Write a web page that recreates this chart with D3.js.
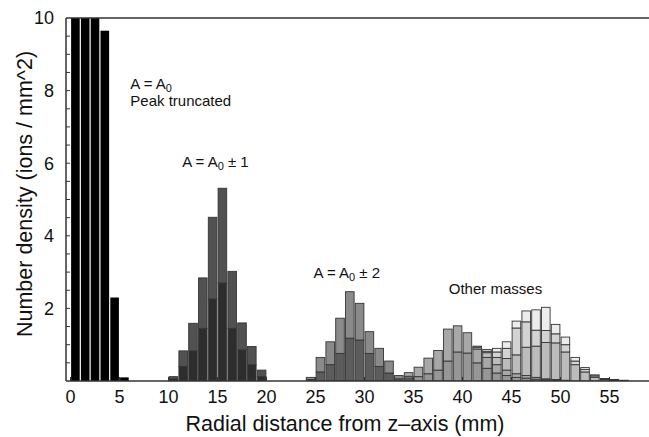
<!DOCTYPE html>
<html>
<head>
    <title>Radial distribution</title>
    <script src="https://d3js.org/d3.v7.min.js"></script>
    <style>
        body { margin: 0; background: #fff; }
        svg { display: block; }
        text { font-family: "Liberation Sans", Arial, Helvetica, sans-serif; fill: #111; }
    </style>
</head>
<body>
    <svg id="chart"></svg>
    <script>
        const width = 649;
        const height = 437;

        // histogram contributions per 1 mm bin
        const peakA0 = [10.6, 10.6, 10.6, 9.65, 2.3, 0.1];              // bins 0..5 (peak truncated)
        const a1Lower = [0.06, 0.4, 0.83, 1.45, 2.26, 2.7, 1.45, 0.86, 0.45, 0.12];   // bins 10..19
        const a1Upper = [0.06, 0.43, 0.76, 1.39, 2.25, 2.61, 1.57, 0.74, 0.5, 0.18];
        const a2Lower = [0.04, 0.25, 0.45, 0.76, 1.18, 1.13, 0.76, 0.4, 0.22, 0.06, 0.03]; // bins 24..34
        const a2Upper = [0.06, 0.4, 0.63, 0.97, 1.28, 1.01, 0.6, 0.5, 0.33, 0.09, 0.05];
        const other1 = [0.05, 0.12, 0.2, 0.3, 0.55, 0.8, 0.77, 0.5, 0.35, 0.22, 0.15, 0.1, 0.08, 0.05, 0.03, 0.02, 0.01]; // bins 34..50
        const other2 = [0.1, 0.26, 0.43, 0.54, 0.88, 0.72, 0.56, 0.38, 0.3, 0.23, 0.15, 0.1, 0.07, 0.05, 0.03, 0.02, 0.01];
        const other3 = [0.05, 0.13, 0.2, 0.32, 0.52, 0.78, 0.86, 1.0, 1.01, 0.78, 0.45, 0.25, 0.1, 0.04, 0.02]; // bins 41..55
        const other4 = [0.04, 0.15, 0.28, 0.74, 0.7, 0.44, 0.33, 0.25, 0.2, 0.1, 0.07, 0.04, 0.02, 0.01];       // bins 42..55
        const other5 = [0.03, 0.05, 0.1, 0.18, 0.19, 0.3, 0.56, 0.64, 0.26, 0.21, 0.1, 0.05, 0.03, 0.01, 0.01, 0.02]; // bins 41..56

        const seriesKeys = ["m0", "m1lo", "m1hi", "m2lo", "m2hi", "o1", "o2", "o3", "o4", "o5"];
        const seriesValues = { m0: peakA0, m1lo: a1Lower, m1hi: a1Upper, m2lo: a2Lower, m2hi: a2Upper,
                               o1: other1, o2: other2, o3: other3, o4: other4, o5: other5 };
        const seriesStart = { m0: 0, m1lo: 10, m1hi: 10, m2lo: 24, m2hi: 24, o1: 34, o2: 34, o3: 41, o4: 42, o5: 41 };

        const xTicks = [0, 5, 10, 15, 20, 25, 30, 35, 40, 45, 50, 55];
        const yTicks = [2, 4, 6, 8, 10];

        const fills = { m0: "#000", m1lo: "#2d2d2d", m1hi: "#515151", m2lo: "#5c5c5c", m2hi: "#8a8a8a",
                        o1: "#969696", o2: "#a8a8a8", o3: "#bcbcbc", o4: "#d3d3d3", o5: "#ececec" };

        const svg = d3.select("#chart").attr("width", width).attr("height", height);

        const plotLeft = 66, plotTop = 18, plotBottom = 381;
        const x = d3.scaleLinear().domain([-0.46, 59.03]).range([plotLeft, width]);
        const y = d3.scaleLinear().domain([0, 10]).range([plotBottom, plotTop]);

        // dense table for d3.stack
        const nBins = 58;
        const rows = d3.range(nBins).map(b => {
            const r = { bin: b };
            seriesKeys.forEach(k => {
                const v = seriesValues[k][b - seriesStart[k]];
                r[k] = v === undefined ? 0 : v;
            });
            return r;
        });
        const stacked = d3.stack().keys(seriesKeys)(rows);

        svg.append("clipPath").attr("id", "plot-clip")
            .append("rect")
            .attr("x", plotLeft).attr("y", plotTop)
            .attr("width", width - plotLeft).attr("height", plotBottom - plotTop);

        const plot = svg.append("g").attr("clip-path", "url(#plot-clip)");

        stacked.forEach(layer => {
            plot.append("g")
                .selectAll("rect")
                .data(layer.filter(d => d[1] - d[0] > 0))
                .enter().append("rect")
                .attr("x", d => x(d.data.bin) + 0.6)
                .attr("width", d => x(d.data.bin + 1) - x(d.data.bin) - 1.2)
                .attr("y", d => y(d[1]))
                .attr("height", d => y(d[0]) - y(d[1]))
                .attr("fill", fills[layer.key])
                .attr("stroke", layer.key === "m0" ? "none" : "#353535")
                .attr("stroke-width", 0.9);
        });

        // axes frame
        const axisColor = "#333";
        svg.append("line").attr("x1", plotLeft).attr("x2", plotLeft).attr("y1", plotTop).attr("y2", plotBottom)
            .attr("stroke", axisColor).attr("stroke-width", 1.5);
        svg.append("line").attr("x1", plotLeft).attr("x2", width).attr("y1", plotTop).attr("y2", plotTop)
            .attr("stroke", axisColor).attr("stroke-width", 1.5);
        svg.append("line").attr("x1", plotLeft).attr("x2", width).attr("y1", plotBottom).attr("y2", plotBottom)
            .attr("stroke", axisColor).attr("stroke-width", 1.5);

        // y ticks (inward, every 0.5)
        svg.append("g").selectAll("line")
            .data(d3.range(0.5, 10, 0.5))
            .enter().append("line")
            .attr("x1", plotLeft).attr("x2", plotLeft + 4)
            .attr("y1", d => y(d)).attr("y2", d => y(d))
            .attr("stroke", axisColor).attr("stroke-width", 1);

        svg.append("g").selectAll("text")
            .data(yTicks)
            .enter().append("text")
            .attr("x", 54)
            .attr("y", d => y(d))
            .attr("dy", "0.36em")
            .attr("text-anchor", "end")
            .style("font-size", "18px")
            .text(d => d);

        // x ticks
        svg.append("g").selectAll("line")
            .data(xTicks)
            .enter().append("line")
            .attr("x1", d => x(d)).attr("x2", d => x(d))
            .attr("y1", plotBottom).attr("y2", plotBottom - 4)
            .attr("stroke", axisColor).attr("stroke-width", 1);

        svg.append("g").selectAll("text")
            .data(xTicks)
            .enter().append("text")
            .attr("x", d => x(d))
            .attr("y", 403)
            .attr("text-anchor", "middle")
            .style("font-size", "18px")
            .text(d => d);

        // axis titles
        svg.append("text")
            .attr("x", 345).attr("y", 431)
            .attr("text-anchor", "middle")
            .style("font-size", "21.5px")
            .text("Radial distance from z\u2013axis (mm)");

        svg.append("text")
            .attr("transform", "translate(32,194) rotate(-90)")
            .attr("text-anchor", "middle")
            .style("font-size", "21.5px")
            .text("Number density (ions / mm^2)");

        // annotations
        function massLabel(px, py, suffix) {
            const t = svg.append("text").attr("x", px).attr("y", py).style("font-size", "15px");
            t.append("tspan").text("A = A");
            t.append("tspan").attr("dy", 2.5).style("font-size", "11px").text("0");
            if (suffix) t.append("tspan").attr("dy", -2.5).text(" " + suffix);
            return t;
        }
        massLabel(x(6.1), 89);
        svg.append("text").attr("x", x(6.1)).attr("y", 106).style("font-size", "15px").text("Peak truncated");
        massLabel(x(11.4), 167, "\u00b1 1");
        massLabel(x(24.8), 278, "\u00b1 2");
        svg.append("text").attr("x", x(38.6)).attr("y", 294).style("font-size", "15px").text("Other masses");
    </script>
</body>
</html>
